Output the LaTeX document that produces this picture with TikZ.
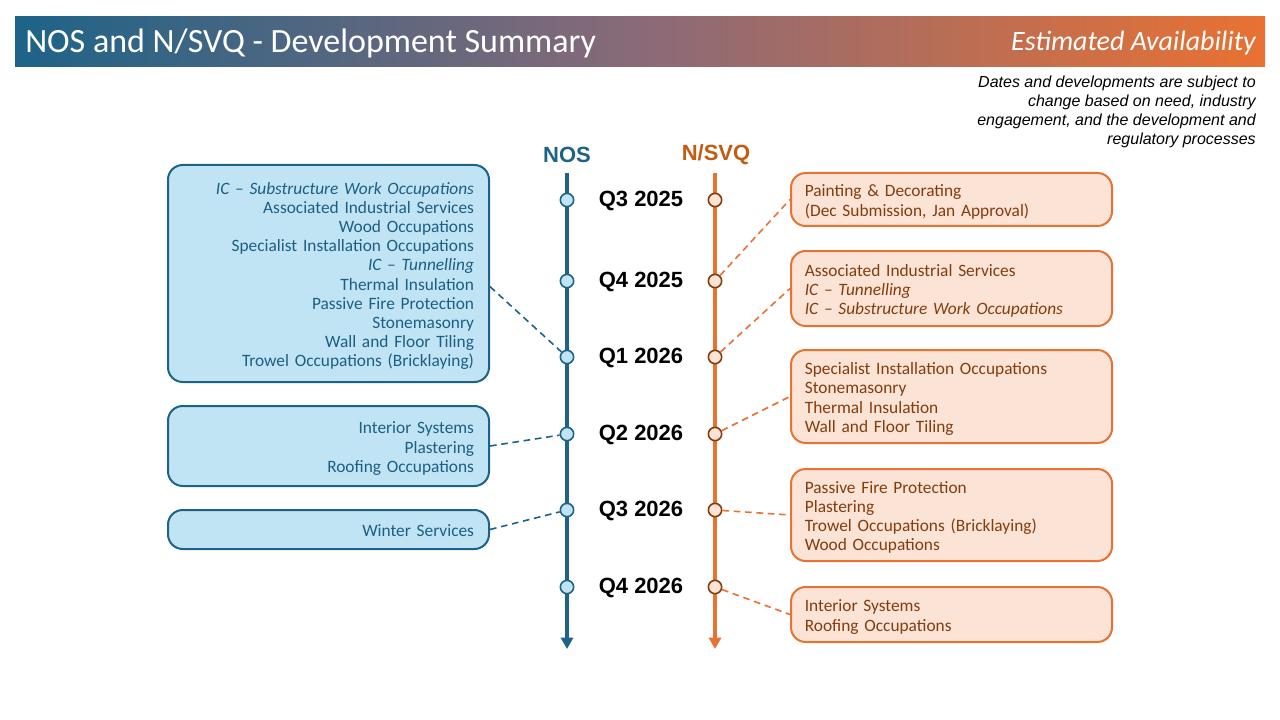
\documentclass[tikz,border=0pt]{standalone}
\usepackage{fontspec}
\setmainfont{Carlito}
\newfontfamily\arialf{Liberation Sans}
\usetikzlibrary{arrows.meta,calc}
\definecolor{nosblue}{HTML}{1D6388}
\definecolor{lblue}{HTML}{C1E4F5}
\definecolor{lbluetext}{HTML}{1B5E84}
\definecolor{svqor}{HTML}{E97132}
\definecolor{svqhead}{HTML}{C55A11}
\definecolor{lor}{HTML}{FBE3D6}
\definecolor{brownt}{HTML}{843C0C}
\definecolor{titlemid}{HTML}{8A6A78}
\begin{document}
\begin{tikzpicture}[x=0.75pt,y=-0.75pt,
  boxfont/.style={font=\fontsize{13pt}{14.4pt}\selectfont,
    execute at begin node={\rule{0pt}{13.5pt}},
    execute at end node={\rule[-3pt]{0pt}{0pt}}},
  lbox/.style={draw=nosblue, line width=1.5pt, fill=lblue, rounded corners=11pt,
    minimum width=240.75pt, text width=218.25pt, align=right, inner xsep=11.25pt,
    inner ysep=0pt, boxfont, text=lbluetext},
  rbox/.style={draw=svqor, line width=1.5pt, fill=lor, rounded corners=11pt,
    minimum width=240.75pt, text width=220pt, align=left, inner xsep=10pt,
    inner ysep=0pt, boxfont, text=brownt},
  nosline/.style={draw=nosblue, line width=2.7pt, -{Triangle[width=9pt,length=8.5pt]}},
  svqline/.style={draw=svqor, line width=2.7pt, -{Triangle[width=9pt,length=8.5pt]}},
  nosdot/.style={circle, draw=nosblue, fill=lblue, line width=1.2pt, minimum size=10pt, inner sep=0pt},
  svqdot/.style={circle, draw=brownt, fill=lor, line width=1.2pt, minimum size=10pt, inner sep=0pt},
  qlab/.style={font=\arialf\bfseries\fontsize{16.5pt}{19pt}\selectfont, text=black, inner sep=0pt},
  lconn/.style={draw=nosblue, line width=1.2pt, dash pattern=on 5pt off 3.5pt},
  rconn/.style={draw=svqor, line width=1.2pt, dash pattern=on 5pt off 3.5pt}
]
\useasboundingbox (0,0) rectangle (1280,720);
\fill[white] (0,0) rectangle (1280,720);

% title bar
\shade[left color=nosblue, right color=svqor, middle color=titlemid] (15,17) rectangle (1265,67);
\node[anchor=west, inner sep=0pt, text=white, font=\fontsize{25.5pt}{30pt}\selectfont] (title) at (25,43) {NOS and N/SVQ - Development Summary};
\node[anchor=east, inner sep=0pt, text=white, font=\fontsize{21pt}{25pt}\selectfont\itshape] (avail) at (1256,43) {Estimated Availability};
\node[anchor=east, inner sep=0pt, align=right, text=black, font=\arialf\itshape\fontsize{12pt}{14.1pt}\selectfont] (note) at (1256,112)
  {Dates and developments are subject to\\change based on need, industry\\engagement, and the development and\\regulatory processes};

% headings
\node[font=\arialf\bfseries\fontsize{16.5pt}{19pt}\selectfont, text=nosblue, inner sep=0pt] (nosh) at (567,155) {NOS};
\node[font=\arialf\bfseries\fontsize{16.5pt}{19pt}\selectfont, text=svqhead, inner sep=0pt] (svqh) at (716,155) {N/SVQ};

% timelines
\coordinate (nostop) at (567,173);
\coordinate (nosbot) at (567,649);
\coordinate (svqtop) at (715,173);
\coordinate (svqbot) at (715,649);
\draw[nosline] (nostop) -- (nosbot);
\draw[svqline] (svqtop) -- (svqbot);

% markers and quarter labels
\foreach \i/\yy/\lab in {1/200/Q3 2025, 2/281/Q4 2025, 3/357/Q1 2026, 4/434/Q2 2026, 5/510/Q3 2026, 6/587/Q4 2026}{
  \node[nosdot] (n\i) at (567,\yy) {};
  \node[svqdot] (o\i) at (715,\yy) {};
  \node[qlab] (q\i) at (641,\yy+1) {\lab};
}

% left boxes
\node[lbox, minimum height=162.75pt] (lb1) at (328.5,273.5)
  {\textit{IC – Substructure Work Occupations}\\Associated Industrial Services\\Wood Occupations\\Specialist Installation Occupations\\\textit{IC – Tunnelling}\\Thermal Insulation\\Passive Fire Protection\\Stonemasonry\\Wall and Floor Tiling\\Trowel Occupations (Bricklaying)};
\node[lbox, minimum height=60pt] (lb2) at (328.5,446)
  {Interior Systems\\Plastering\\Roofing Occupations};
\node[lbox, minimum height=29.25pt] (lb3) at (328.5,529.5)
  {Winter Services};

% right boxes
\node[rbox, minimum height=39.75pt] (rb1) at (951.5,199.5)
  {Painting \& Decorating\\(Dec Submission, Jan Approval)};
\node[rbox, minimum height=56.25pt] (rb2) at (951.5,288.5)
  {Associated Industrial Services\\\textit{IC – Tunnelling}\\\textit{IC – Substructure Work Occupations}};
\node[rbox, minimum height=69.75pt] (rb3) at (951.5,396.5)
  {Specialist Installation Occupations\\Stonemasonry\\Thermal Insulation\\Wall and Floor Tiling};
\node[rbox, minimum height=69pt] (rb4) at (951.5,515)
  {Passive Fire Protection\\Plastering\\Trowel Occupations (Bricklaying)\\Wood Occupations};
\node[rbox, minimum height=41.25pt] (rb5) at (951.5,614.5)
  {Interior Systems\\Roofing Occupations};

% connectors
\draw[lconn] ($(lb1.north east)!0.56!(lb1.south east)$) -- (n3);
\draw[lconn] (lb2.east) -- (n4);
\draw[lconn] (lb3.east) -- (n5);
\draw[rconn] (o2) -- (rb1.west);
\draw[rconn] (o3) -- (rb2.west);
\draw[rconn] (o4) -- (rb3.west);
\draw[rconn] (o5) -- (rb4.west);
\draw[rconn] (o6) -- (rb5.west);
\end{tikzpicture}
\end{document}
